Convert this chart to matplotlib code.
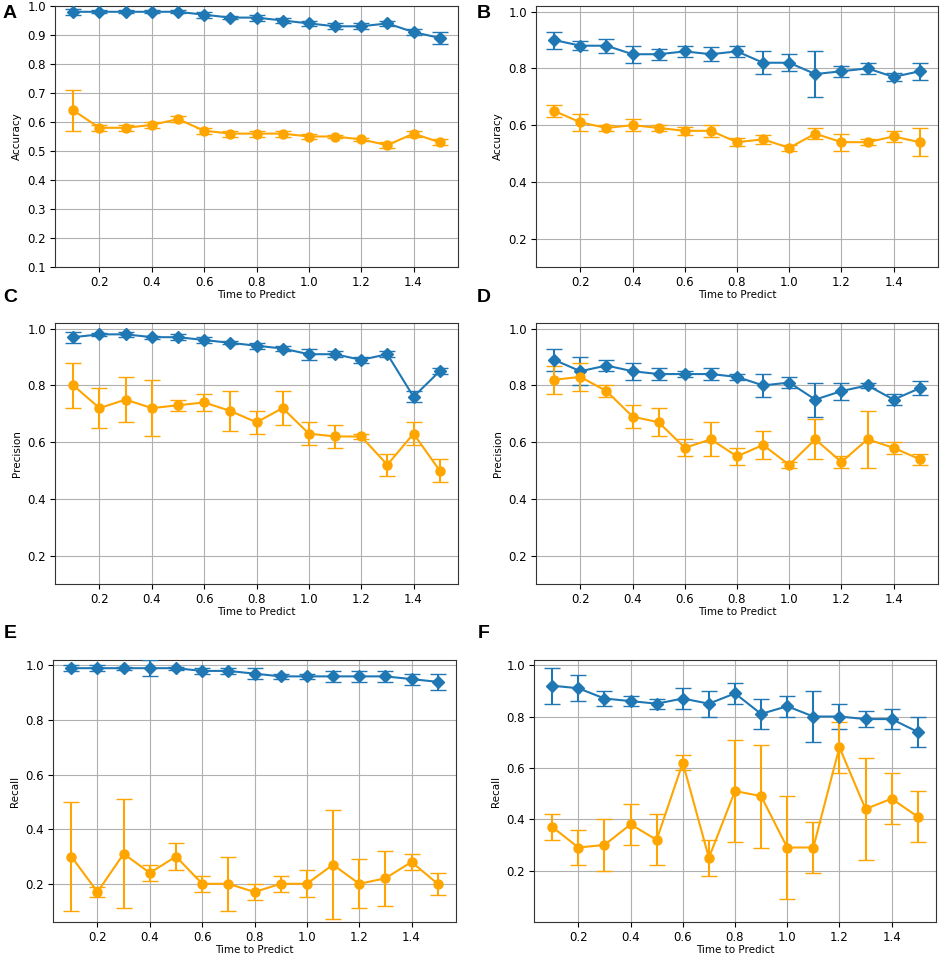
import numpy as np
from matplotlib import pyplot as plt

t = [0.1, 0.2, 0.3, 0.4, 0.5, 0.6, 0.7, 0.8, 0.9, 1.0, 1.1, 1.2, 1.3, 1.4, 1.5]

# A - accuracy
a_blue = [0.98, 0.98, 0.98, 0.98, 0.98, 0.97, 0.96, 0.96, 0.95, 0.94, 0.93, 0.93, 0.94, 0.91, 0.89]
a_blue_err = [0.01, 0.005, 0.005, 0.005, 0.005, 0.01, 0.005, 0.01, 0.01, 0.01, 0.01, 0.01, 0.01, 0.01, 0.02]
a_orange = [0.64, 0.58, 0.58, 0.59, 0.61, 0.57, 0.56, 0.56, 0.56, 0.55, 0.55, 0.54, 0.52, 0.56, 0.53]
a_orange_err = [0.07, 0.01, 0.01, 0.01, 0.01, 0.01, 0.01, 0.01, 0.01, 0.01, 0.005, 0.005, 0.01, 0.01, 0.01]

# B - accuracy
b_blue = [0.90, 0.88, 0.88, 0.85, 0.85, 0.86, 0.85, 0.86, 0.82, 0.82, 0.78, 0.79, 0.80, 0.77, 0.79]
b_blue_err = [0.03, 0.015, 0.025, 0.03, 0.02, 0.02, 0.025, 0.02, 0.04, 0.03, 0.08, 0.02, 0.02, 0.015, 0.03]
b_orange = [0.65, 0.61, 0.59, 0.60, 0.59, 0.58, 0.58, 0.54, 0.55, 0.52, 0.57, 0.54, 0.54, 0.56, 0.54]
b_orange_err = [0.02, 0.03, 0.01, 0.02, 0.01, 0.015, 0.02, 0.015, 0.015, 0.01, 0.02, 0.03, 0.01, 0.02, 0.05]

# C - precision
c_blue = [0.97, 0.98, 0.98, 0.97, 0.97, 0.96, 0.95, 0.94, 0.93, 0.91, 0.91, 0.89, 0.91, 0.76, 0.85]
c_blue_err = [0.02, 0.005, 0.01, 0.005, 0.01, 0.01, 0.005, 0.01, 0.01, 0.02, 0.01, 0.01, 0.01, 0.02, 0.01]
c_orange = [0.80, 0.72, 0.75, 0.72, 0.73, 0.74, 0.71, 0.67, 0.72, 0.63, 0.62, 0.62, 0.52, 0.63, 0.50]
c_orange_err = [0.08, 0.07, 0.08, 0.10, 0.02, 0.03, 0.07, 0.04, 0.06, 0.04, 0.04, 0.01, 0.04, 0.04, 0.04]

# D - precision
d_blue = [0.89, 0.85, 0.87, 0.85, 0.84, 0.84, 0.84, 0.83, 0.80, 0.81, 0.75, 0.78, 0.80, 0.75, 0.79]
d_blue_err = [0.04, 0.05, 0.02, 0.03, 0.02, 0.01, 0.02, 0.01, 0.04, 0.02, 0.06, 0.03, 0.01, 0.02, 0.025]
d_orange = [0.82, 0.83, 0.78, 0.69, 0.67, 0.58, 0.61, 0.55, 0.59, 0.52, 0.61, 0.53, 0.61, 0.58, 0.54]
d_orange_err = [0.05, 0.05, 0.02, 0.04, 0.05, 0.03, 0.06, 0.03, 0.05, 0.01, 0.07, 0.02, 0.10, 0.02, 0.02]

# E - recall
e_blue = [0.99, 0.99, 0.99, 0.99, 0.99, 0.98, 0.98, 0.97, 0.96, 0.96, 0.96, 0.96, 0.96, 0.95, 0.94]
e_blue_err = [0.01, 0.01, 0.005, 0.03, 0.005, 0.01, 0.01, 0.02, 0.01, 0.01, 0.02, 0.02, 0.02, 0.02, 0.03]
e_orange = [0.30, 0.17, 0.31, 0.24, 0.30, 0.20, 0.20, 0.17, 0.20, 0.20, 0.27, 0.20, 0.22, 0.28, 0.20]
e_orange_err = [0.20, 0.02, 0.20, 0.03, 0.05, 0.03, 0.10, 0.03, 0.03, 0.05, 0.20, 0.09, 0.10, 0.03, 0.04]

# F - recall
f_blue = [0.92, 0.91, 0.87, 0.86, 0.85, 0.87, 0.85, 0.89, 0.81, 0.84, 0.80, 0.80, 0.79, 0.79, 0.74]
f_blue_err = [0.07, 0.05, 0.03, 0.02, 0.02, 0.04, 0.05, 0.04, 0.06, 0.04, 0.10, 0.05, 0.03, 0.04, 0.06]
f_orange = [0.37, 0.29, 0.30, 0.38, 0.32, 0.62, 0.25, 0.51, 0.49, 0.29, 0.29, 0.68, 0.44, 0.48, 0.41]
f_orange_err = [0.05, 0.07, 0.10, 0.08, 0.10, 0.03, 0.07, 0.20, 0.20, 0.20, 0.10, 0.10, 0.20, 0.10, 0.10]

W, H = 941, 957
fig = plt.figure(figsize=(W / 100, H / 100), dpi=100)

def box(l, r, top, bot):
    return [l / W, 1 - bot / H, (r - l) / W, (bot - top) / H]

panels = [
    ("A", box(55, 458, 6, 267), "Accuracy", a_blue, a_blue_err, a_orange, a_orange_err, (0.1, 1.0), np.arange(0.1, 1.01, 0.1), (10, 13)),
    ("B", box(536, 938, 6, 267), "Accuracy", b_blue, b_blue_err, b_orange, b_orange_err, (0.1, 1.02), np.arange(0.2, 1.01, 0.2), (484, 13)),
    ("C", box(55, 458, 323, 584), "Precision", c_blue, c_blue_err, c_orange, c_orange_err, (0.1, 1.02), np.arange(0.2, 1.01, 0.2), (10, 298)),
    ("D", box(536, 938, 323, 584), "Precision", d_blue, d_blue_err, d_orange, d_orange_err, (0.1, 1.02), np.arange(0.2, 1.01, 0.2), (484, 298)),
    ("E", box(53, 456, 660, 922), "Recall", e_blue, e_blue_err, e_orange, e_orange_err, (0.06, 1.02), np.arange(0.2, 1.01, 0.2), (10, 633)),
    ("F", box(534, 936, 660, 922), "Recall", f_blue, f_blue_err, f_orange, f_orange_err, (0.0, 1.02), np.arange(0.2, 1.01, 0.2), (484, 633)),
]

for label, rect, ylab, yb, eb, yo, eo, ylim, yticks, lpos in panels:
    ax = fig.add_axes(rect)
    ax.errorbar(t, yb, yerr=eb, color="#1f77b4", marker="D", markersize=6.5,
                linewidth=1.5, capsize=6, zorder=3)
    ax.errorbar(t, yo, yerr=eo, color="orange", marker="o", markersize=6.5,
                linewidth=1.5, capsize=6, zorder=3)
    ax.set_ylim(*ylim)
    ax.set_yticks(yticks)
    ax.set_xticks([0.2, 0.4, 0.6, 0.8, 1.0, 1.2, 1.4])
    ax.grid(True, color="#b0b0b0", linewidth=0.8)
    ax.tick_params(labelsize=8.5, pad=3)
    ax.set_xlabel("Time to Predict", fontsize=7.5, labelpad=1)
    ax.set_ylabel(ylab, fontsize=7.5)
    for s in ax.spines.values():
        s.set_color("#333333")
    fig.text(lpos[0] / W, 1 - lpos[1] / H, label, fontsize=14, fontweight="bold",
             family="Liberation Sans", ha="center", va="center")

fig.savefig("out.png", dpi=100)
